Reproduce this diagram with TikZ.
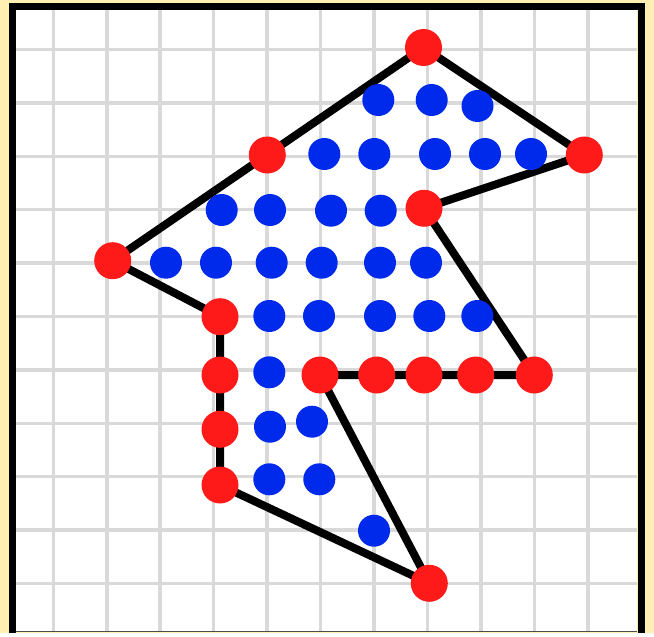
\documentclass[tikz,border=0pt]{standalone}
\usepackage{tikz}
\usetikzlibrary{calc}
\definecolor{paper}{RGB}{255,239,178}
\definecolor{gridgray}{RGB}{217,217,217}
\definecolor{dotred}{RGB}{255,26,26}
\definecolor{dotblue}{RGB}{0,42,235}
\tikzset{
  gridline/.style={gridgray,line width=3.5pt},
  frame/.style={line width=7pt},
  edge/.style={line width=8pt,line join=round},
  vertex/.style={circle,fill=dotred,inner sep=0pt,minimum size=37pt},
  lattice/.style={circle,fill=dotblue,inner sep=0pt,minimum size=32pt}
}

\begin{document}
\begin{tikzpicture}[x=1pt,y=-1pt]
  % sheet and grid
  \fill[paper] (0,0) rectangle (654,633);
  \fill[white] (16,10) rectangle (637,631);
  \foreach \i in {0,...,10} {
    \draw[gridline] ({53.3+53.45*\i},10) -- ({53.3+53.45*\i},631);
    \draw[gridline] (16,{49.5+53.4*\i}) -- (637,{49.5+53.4*\i});
  }
  \draw[frame] (12.5,633) -- (12.5,6.5) -- (641,6.5) -- (641,633);
  \draw[gray!60!black] (16,631.5) -- (637,631.5);

  % boundary points
  \coordinate (top) at (423.5,47.5);
  \coordinate (tip) at (584.3,155);
  \coordinate (notch) at (424,208.3);
  \coordinate (corner) at (534.3,375);
  \coordinate (m1) at (475.7,375);
  \coordinate (m2) at (424,375);
  \coordinate (m3) at (376.7,375);
  \coordinate (inner) at (320,375);
  \coordinate (bottom) at (429.3,583.3);
  \coordinate (foot) at (220,485);
  \coordinate (s1) at (220,429.3);
  \coordinate (s2) at (220,375);
  \coordinate (s3) at (220,316.7);
  \coordinate (left) at (112.7,260.7);
  \coordinate (mid) at (267.3,155);

  \draw[edge] (top) -- (tip) -- (notch) -- (corner) -- (inner) -- (bottom)
    -- (foot) -- (s3) -- (left) -- (top);

  % interior points
  \foreach \x/\y [count=\k] in {
      378.3/100, 431.7/100, 477.5/106,
      324.3/154, 374.3/154, 435/154, 485/154, 531/154,
      221.7/210, 270/210, 331/210.7, 380.7/210.7,
      166/262.7, 216/262.7, 271.7/262.7, 321.7/262.7, 380/262.7, 426/262.7,
      269.3/316, 319/316, 380/316, 429.3/316, 477.3/316,
      269.3/372.3,
      270/426.7, 312/421.7,
      269.3/479.3, 319.3/479.3,
      374/530.7}
    \node[lattice] (b\k) at (\x,\y) {};

  % boundary dots
  \foreach \p in {top,tip,notch,corner,m1,m2,m3,inner,bottom,foot,s1,s2,s3,left,mid}
    \node[vertex] (v-\p) at (\p) {};
\end{tikzpicture}
\end{document}
